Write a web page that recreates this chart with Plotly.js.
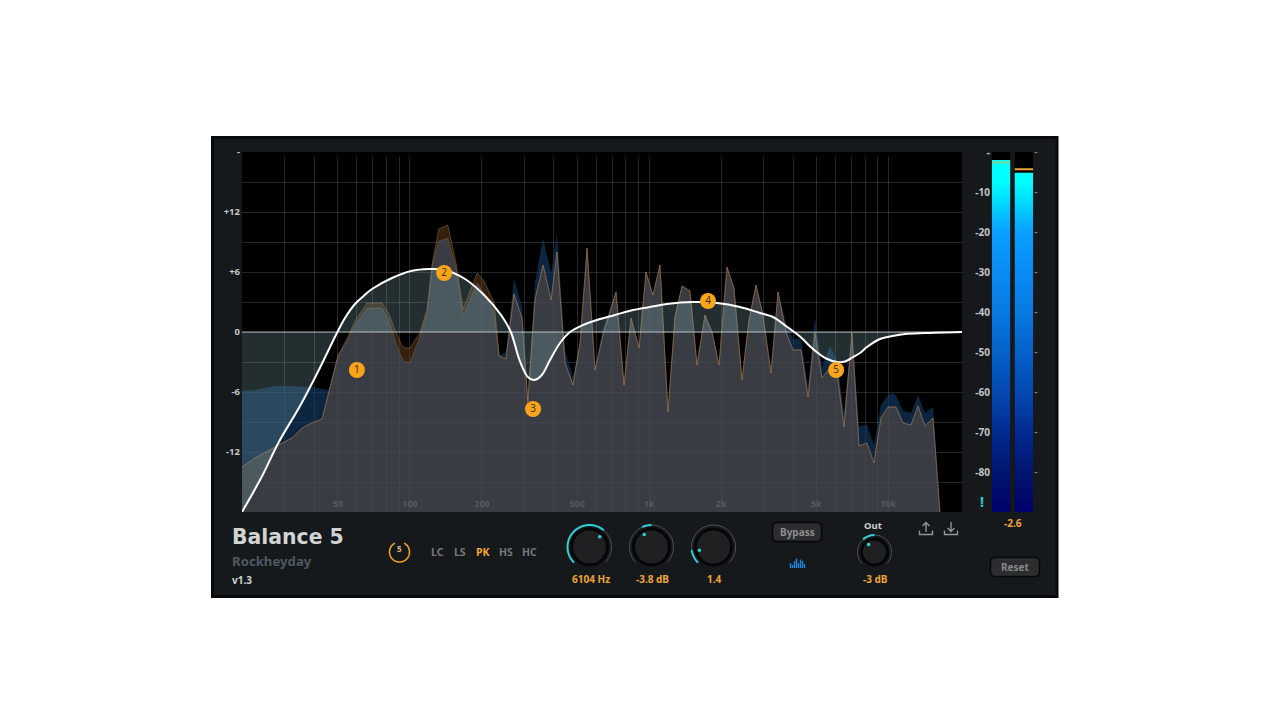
<!DOCTYPE html>
<html><head><meta charset="utf-8">
<script src="https://cdn.plot.ly/plotly-3.0.1.min.js"></script>
<style>html,body{margin:0;padding:0;background:#fff}#g{width:1280px;height:720px}</style>
</head><body><div id="g"></div>
<script>
const specFreq=[19.85,22.5,27.3,32.1,35.4,38.9,42.9,45.9,48.1,50,54.5,58.9,66.1,76.4,81.7,86.6,92.6,95.3,100,110,118,124,132,144,156,167,191,204,225,236,247,252,272,294,311,333,360,389,412,445,480,514,550,594,641,727,785,840,907,970,1037,1110,1199,1282,1372,1482,1585,1711,1831,1959,2115,2263,2444,2615,2797,2991,3231,3457,3733,3993,4313,4614,4935,5278,5700,6100,6523,7046,7537,8140,8706,9313,9966,10357,10766,11514,12436,13298,14230,15370,16440];
const outputDb=[-13.5,-12.6,-11.5,-10.6,-9.6,-9.1,-8.7,-5.8,-3.8,-2.4,-0.7,1.1,2.9,2.9,1.8,0.2,-1.4,-1.6,-1.6,-0.1,2.3,6.9,10.3,10.7,6.8,2.3,5.9,5.1,2.9,-2.4,-2.6,-2.7,3.8,1.4,-7.0,3.2,6.7,3.2,8.0,-3.1,-5.3,-1.1,8.4,-3.8,-0.3,4.0,-5.3,1.4,-1.6,6.0,3.7,6.7,-8.0,1.5,4.6,4.1,-3.3,1.7,0,-3.3,6.5,4.4,-4.8,1.2,4.7,1.7,-4.1,4.0,0,-1.8,-1.8,-6.5,-0.1,-4.6,-3.6,-4.0,-9.5,-0.1,-11.4,-11.1,-13.1,-8.6,-7.5,-7.5,-7.5,-9.1,-9.3,-7.4,-9.4,-8.6,-18];
const inputDb=[-5.9,-5.8,-5.4,-5.4,-5.5,-5.5,-5.7,-5.8,-3.8,-2.4,-0.9,0.7,2.4,2.4,1.2,-0.8,-2.6,-3.0,-3.0,-0.5,2.0,6.7,9.1,9.4,6.3,1.7,4.9,3.9,1.9,-2.4,-2.1,-2.0,5.3,2.6,-6.3,4.9,9.4,5.9,9.8,-1.8,-4.5,-1.1,8.4,-3.6,0.4,4.0,-5.3,1.4,-1.6,6.0,3.7,6.7,-8.0,1.5,4.6,4.1,-3.3,1.7,0,-3.3,6.5,4.4,-4.8,1.2,4.7,1.7,-4.1,4.0,0.9,-0.7,-0.7,-5.5,1.4,-3.5,-1.4,-2.8,-8.0,-0.1,-9.4,-9.3,-11.3,-7.3,-6.3,-6.1,-6.3,-7.9,-8.1,-6.3,-8.1,-7.5,-18];
const eqFreq=[19.85,24.1,28.3,34.7,41.6,49.5,53.5,58.9,64,69.4,84.1,101,120,140,170,206,242,264,288,311,330,356,385,424,467,529,623,720,856,1007,1187,1524,1920,2397,2905,3295,3733,4270,4840,5490,6100,6590,7120,7610,8140,9230,10160,11730,14230,20320];
const eqDb=[-18,-14.4,-11.0,-7.4,-3.8,-0.1,1.4,2.8,3.6,4.3,5.4,6.1,6.3,6.2,5.3,3.6,1.6,0,-2.9,-4.5,-4.8,-4.3,-2.8,-1.1,0,0.7,1.3,1.7,2.2,2.5,2.8,3.0,2.9,2.5,1.9,1.5,0.6,-0.45,-1.7,-2.65,-3.0,-2.95,-2.5,-2.1,-1.5,-0.7,-0.45,-0.2,-0.1,0];
const bandFreq=[60,139,327,1762,6050];
const bandGain=[-3.8,5.9,-7.7,3.1,-3.8];
const bandLabels=['1','2','3','4','5'];
const gridFreq=[30,40,50,60,70,80,90,100,200,300,400,500,600,700,800,900,1000,2000,3000,4000,5000,6000,7000,8000,9000,10000];
const gridLabels=['','','50','','','','','100','200','','','500','','','','','1k','2k','','','5k','','','','','10k'];
const dbTicks=[-18,-15,-12,-9,-6,-3,0,3,6,9,12,15,18];
const dbLabels=['-','','-12','','-6','','0','','+6','','+12','','-'];
const meterTicks=[0,-10,-20,-30,-40,-50,-60,-70,-80];
const meterLabels=['-','-10','-20','-30','-40','-50','-60','-70','-80'];
const meterLevel=[-2.0,-5.2];
const meterPeak=[-2.6,-4.3];
const modes=['LC','LS','PK','HS','HC'];
const knobLabels=['6104 Hz','-3.8 dB','1.4'];

const overlapDb=inputDb.map((v,i)=>Math.min(v,outputDb[i]));
const floorDb=specFreq.map(()=>-18);
const px=v=>v/1280, py=v=>1-v/720;
const LF='"Noto Sans",sans-serif';
const orange='#eda437', cyan='#2fcfd6';
const base={hoverinfo:'skip',showlegend:false};
const t=[];
t.push({...base,x:specFreq,y:floorDb,mode:'lines',line:{width:0}});
t.push({...base,x:specFreq,y:overlapDb,mode:'lines',line:{width:.8,color:'rgba(170,125,85,.55)'},fill:'tonexty',fillcolor:'rgba(71,75,84,.8)'});
t.push({...base,x:specFreq,y:inputDb,mode:'lines',line:{width:0},fill:'tonexty',fillcolor:'rgba(20,62,105,.62)'});
t.push({...base,x:specFreq,y:overlapDb,mode:'lines',line:{width:0}});
t.push({...base,x:specFreq,y:outputDb,mode:'lines',line:{width:.8,color:'rgba(170,125,85,.55)'},fill:'tonexty',fillcolor:'rgba(92,58,24,.55)'});
t.push({...base,x:eqFreq,y:eqDb,mode:'lines',line:{width:0,shape:'spline',smoothing:1},fill:'tozeroy',fillcolor:'rgba(125,170,178,.27)'});
t.push({...base,x:[19.85,20320],y:[0,0],mode:'lines',line:{width:1.2,color:'rgba(225,232,232,.72)'}});
t.push({...base,x:eqFreq,y:eqDb,mode:'lines',line:{width:2,color:'#ffffff',shape:'spline',smoothing:1}});
t.push({...base,x:bandFreq,y:bandGain,mode:'markers+text',text:bandLabels,textposition:'middle center',textfont:{family:LF,size:10,color:'#4a2c00'},marker:{size:16,color:'#f9a51c'}});
const meterScale=[[0,'#00006a'],[.11,'#011570'],[.22,'#022a90'],[.33,'#0348b0'],[.44,'#0460c8'],[.55,'#0778e0'],[.67,'#0a8cf5'],[.78,'#0aa0ff'],[.87,'#00e0ff'],[.92,'#00ffff'],[1,'#00ffff']];
meterLevel.forEach((lv,c)=>{
  t.push({...base,xaxis:'x2',yaxis:'y2',x:[c-.4,c+.4,c+.4,c-.4],y:[-90,-90,0,0],mode:'lines',line:{width:0},fill:'toself',fillcolor:'#000'});
  t.push({...base,xaxis:'x2',yaxis:'y2',x:[c-.4,c+.4,c+.4,c-.4],y:[-90,-90,lv,lv],mode:'lines',line:{width:0},fill:'toself',fillgradient:{type:'vertical',start:-90,stop:0,colorscale:meterScale}});
  t.push({...base,xaxis:'x2',yaxis:'y2',x:[c-.4,c+.4],y:[meterPeak[c],meterPeak[c]],mode:'lines',line:{width:2,color:c?'#eda437':'#80d49a'}});
});
t.push({...base,xaxis:'x2',yaxis:'y3',x:[0],y:[-90],mode:'lines',line:{width:0}});
t.push({...base,xaxis:'x3',yaxis:'y4',x:[0],y:[0],mode:'lines',line:{width:0}});

const P=(o)=>({xref:'x3',yref:'y4',layer:'above',...o});
function arc(cx,cy,r,a0,a1){let s='';const n=Math.max(2,Math.ceil(Math.abs(a1-a0)/4));for(let i=0;i<=n;i++){const a=(a0+(a1-a0)*i/n)*Math.PI/180;s+=(i?'L':'M')+(cx+r*Math.sin(a)).toFixed(2)+','+(cy-r*Math.cos(a)).toFixed(2);}return s;}
function circ(cx,cy,r,fill,line,w){return P({type:'circle',x0:cx-r,x1:cx+r,y0:cy-r,y1:cy+r,fillcolor:fill,line:{color:line,width:w}});}
function knob(cx,cy,R,a0,a1,dot){
  const s=[];
  s.push(P({type:'path',path:arc(cx,cy,R,-135,135),line:{color:'#505458',width:1}}));
  s.push(circ(cx,cy,R-4,'#1f2021','#050607',3));
  s.push(P({type:'path',path:arc(cx,cy,R,a0,a1),line:{color:cyan,width:2}}));
  const a=dot*Math.PI/180, dr=R-7.5;
  s.push(circ(cx+dr*Math.sin(a),cy-dr*Math.cos(a),1.8,cyan,cyan,0));
  return s;
}
function rrect(x0,y0,x1,y1,r,fill,line,w){return P({type:'path',path:`M${x0+r},${y0}L${x1-r},${y0}Q${x1},${y0} ${x1},${y0+r}L${x1},${y1-r}Q${x1},${y1} ${x1-r},${y1}L${x0+r},${y1}Q${x0},${y1} ${x0},${y1-r}L${x0},${y0+r}Q${x0},${y0} ${x0+r},${y0}Z`,fillcolor:fill,line:{color:line,width:w}});}
const shapes=[
 {type:'rect',xref:'paper',yref:'paper',x0:px(212.5),x1:px(1057),y0:py(137.5),y1:py(596.5),fillcolor:'#16191c',line:{color:'#08090a',width:3},layer:'below'},
 {type:'rect',xref:'x domain',yref:'y domain',x0:0,x1:1,y0:0,y1:1,fillcolor:'#000',line:{width:0},layer:'below'},
 {type:'rect',xref:'x',yref:'y',x0:19.85,x1:20320,y0:17.5,y1:18,fillcolor:'#000',line:{width:0},layer:'between'},
 ...knob(589.5,547,22,-135,40,45),
 ...knob(651.5,547,22,-25,0,-30),
 ...knob(713.5,547,22,-135,-98,-103),
 ...knob(874.5,552,17,-42,0,-38),
 P({type:'path',path:arc(399.5,552,10,28,332),line:{color:'#e8a020',width:1.6}}),
 rrect(772.5,522.5,821.5,541.5,5,'#2b2d2f','#070809',1.5),
 rrect(990.5,557.5,1039.5,576.5,5,'#2b2d2f','#070809',1.5),
 P({type:'path',path:'M926,532L926,522.5M922.5,526L926,522.5L929.5,526M919.5,530.5L919.5,534.5L932.5,534.5L932.5,530.5',line:{color:'#8f9498',width:1.4}}),
 P({type:'path',path:'M951,522L951,531.5M947.5,528L951,531.5L954.5,528M944.5,530.5L944.5,534.5L957.5,534.5L957.5,530.5',line:{color:'#8f9498',width:1.4}}),
];
[[790.5,563],[792.5,565],[794.5,561],[796.5,558.5],[798.5,563],[800.5,559.5],[802.5,561],[804.5,564]].forEach(b=>{
  shapes.push(P({type:'line',x0:b[0],x1:b[0],y0:b[1],y1:568,line:{color:'#1e86e0',width:1.4}}));
});
const A=(text,x,y,size,color,extra={})=>({xref:'x3',yref:'y4',x,y,text,showarrow:false,xanchor:'center',yanchor:'middle',font:{family:LF,size,color,weight:700},...extra});
const annotations=[
 A('Balance 5',230,537,20.4,'#d2d4d4',{xanchor:'left',font:{family:'"DejaVu Sans",sans-serif',size:20.4,color:'#d2d4d4',weight:700}}),
 A('Rockheyday',230,560.5,13.2,'#4d5964',{xanchor:'left'}),
 A('v1.3',230,580,10,'#d0d2d4',{xanchor:'left'}),
 A('5',399.5,548,8,'#dcb878'),
 A(knobLabels[0],591,579,10,orange),A(knobLabels[1],652.5,579,10,orange),A(knobLabels[2],714,579,10,orange),
 A('Bypass',797,532,10,'#8b8d8f'),A('Reset',1015,567,10,'#85878a'),
 A('Out',873,525,9.5,'#cfd1d3'),A('-3 dB',875,579,10,orange),A('-2.6',1012.5,523,10,orange),
 A('!',982,501,14,'#27d0d0'),
];
modes.forEach((m,i)=>annotations.push(A(m,437+i*23,552,10.5,m==='PK'?'#f5a623':'#75787b')));
const tf=(c,s)=>({family:LF,size:s,color:c,weight:700});
const layout={
 width:1280,height:720,margin:{l:0,r:0,t:0,b:0},paper_bgcolor:'#fff',plot_bgcolor:'rgba(0,0,0,0)',showlegend:false,hovermode:false,
 xaxis:{type:'log',domain:[px(242),px(962)],range:[1.2978,4.3079],tickmode:'array',tickvals:gridFreq,ticktext:gridLabels,ticklabelposition:'inside',tickfont:tf('#565a60',9),showgrid:true,gridcolor:'rgba(255,255,255,.15)',gridwidth:1,zeroline:false,showline:false,ticks:'',layer:'above traces',anchor:'y'},
 yaxis:{domain:[py(512),py(152)],range:[-18,18],tickmode:'array',tickvals:dbTicks,ticktext:dbLabels,tickfont:tf('#c4c6c8',9.5),ticklabelstandoff:1,showgrid:true,gridcolor:'rgba(255,255,255,.15)',gridwidth:1,zeroline:false,showline:false,ticks:'',anchor:'x'},
 xaxis2:{domain:[px(991),px(1033.5)],range:[-.44,1.42],visible:false,anchor:'y2'},
 yaxis2:{domain:[py(512),py(152)],range:[-90,0],tickmode:'array',tickvals:meterTicks,ticktext:meterLabels,tickfont:tf('#c4c6c8',10),showgrid:false,zeroline:false,showline:false,ticks:'',anchor:'x2'},
 yaxis3:{domain:[py(512),py(152)],range:[-90,0],overlaying:'y2',side:'right',tickmode:'array',tickvals:meterTicks,ticktext:meterTicks.map(()=>'-'),tickfont:tf('#8a8c8e',9),showgrid:false,zeroline:false,showline:false,ticks:'',anchor:'x2'},
 xaxis3:{domain:[0,1],range:[0,1280],visible:false,anchor:'y4',fixedrange:true},
 yaxis4:{domain:[0,1],range:[720,0],visible:false,anchor:'x3',fixedrange:true},
 shapes,annotations
};
Plotly.newPlot('g',t,layout,{displayModeBar:false,staticPlot:true});
</script></body></html>
